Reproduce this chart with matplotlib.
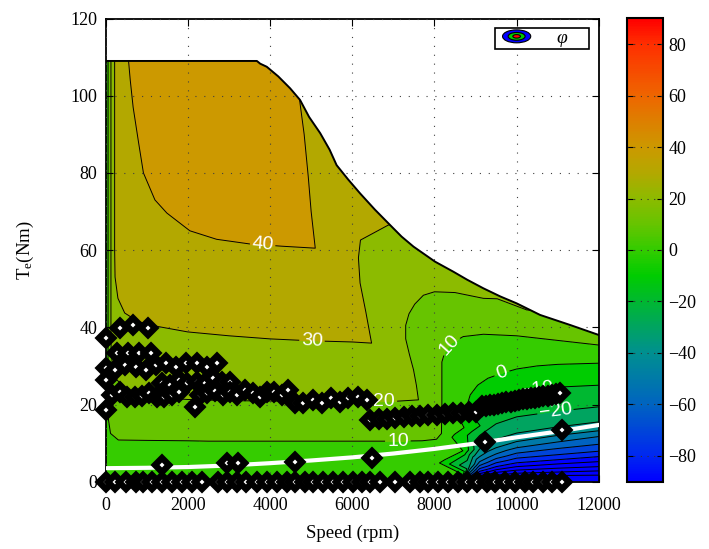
import numpy as np
import matplotlib
matplotlib.use('Agg')
import matplotlib.pyplot as plt
import matplotlib.tri as mtri
from matplotlib.colors import LinearSegmentedColormap, Normalize
from matplotlib.patches import Polygon, Ellipse, Patch
from matplotlib.legend_handler import HandlerBase
from matplotlib.cm import ScalarMappable

plt.rcParams['font.family'] = ['Liberation Serif', 'DejaVu Serif']
plt.rcParams['mathtext.fontset'] = 'stix'

# --- phi field (speed rpm, torque Nm) ---
c40_speed = [550, 600, 670, 800, 920, 1200, 1490, 2050, 2700, 3500, 4300, 5100, 5000, 4930, 4830, 4730, 4650]
c40_torque = [110, 104, 97, 88, 80, 73, 69.6, 65, 62.8, 61.6, 61.0, 60.5, 70, 79, 90, 98, 110]

c30_speed = [220, 220, 220, 220, 220, 220, 230, 300, 465, 790, 1275, 2000, 3000, 4000, 5000, 6000,
             6470, 6330, 6190, 6150, 6200, 6270, 6350, 6680, 6880, 7100]
c30_torque = [110, 100, 90, 80, 70, 60, 53, 47.5, 43.7, 41.5, 40.2, 38.8, 37.8, 37.0, 36.5, 36.2,
              35.9, 44, 51.5, 58, 62.6, 65.2, 66.2, 66.7, 66.5, 66.5]

c20_speed = [130, 130, 130, 130, 130, 130, 130, 130, 135, 170, 230, 350, 667, 1200, 2000, 3000, 4000,
             5000, 6000, 7000, 7610, 7560, 7490, 7390, 7300, 7300, 7380, 7520, 7730, 8000, 8500, 9190,
             10245, 10800]
c20_torque = [110, 100, 90, 80, 70, 60, 50, 40, 34, 29.5, 27, 25.5, 23, 21.8, 21.3, 21.0, 20.9,
              20.8, 20.8, 20.8, 21.2, 25, 29, 33, 37, 40.5, 43.5, 46, 48.3, 49.2, 49, 47.5,
              44.5, 44.0]

c10_speed = [60, 60, 60, 60, 60, 60, 60, 60, 60, 62, 70, 120, 310, 1000, 2000, 4000, 6000, 7000,
             7700, 8050, 8170, 8180, 8180, 8180, 8250, 8400, 8700, 9190, 10000, 11000, 12000]
c10_torque = [110, 100, 90, 80, 70, 60, 50, 40, 30, 22, 16, 12.5, 10.8, 10.7, 10.6, 10.5, 10.5, 10.5,
              10.6, 11, 12.5, 18, 25, 31, 33.5, 35.8, 37.6, 38.2, 37.8, 36.6, 35.4]

c0_speed = [8665, 8690, 8720, 8770, 8870, 9050, 9300, 9640, 10000, 10500, 11000, 12000]
c0_torque = [2, 8, 14, 19, 22.5, 25, 26.8, 28.1, 29.2, 30.0, 30.4, 30.7]

cm10_speed = [8700, 8740, 8800, 8907, 9100, 9350, 9910, 10500, 11000, 12000]
cm10_torque = [2, 7, 12, 17.3, 20.0, 21.6, 23.2, 24.0, 24.5, 25]

# fan below the singular point: torque at 8850, 9100, 9500, 10000, 11000, 12000 rpm
fan_speed = [8850, 9100, 9500, 10000, 11000, 12000]
cm20_torque = [7.0, 12.0, 15.0, 16.8, 18.3, 19.4]
cm30_torque = [4.0, 8.5, 11.0, 12.6, 14.2, 15.5]
cm40_torque = [3.0, 6.5, 8.8, 10.4, 12.0, 13.2]
cm50_torque = [2.3, 5.2, 7.2, 8.8, 10.3, 11.7]
cm60_torque = [1.8, 4.2, 6.0, 7.4, 8.6, 9.7]
cm70_torque = [1.4, 3.4, 4.9, 6.1, 7.0, 7.9]
cm80_torque = [1.1, 2.7, 3.9, 4.9, 5.7, 6.5]
cm90_torque = [0.8, 2.1, 3.1, 3.9, 4.6, 5.2]
cm100_torque = [0.6, 1.6, 2.4, 3.0, 3.5, 3.9]
cm110_torque = [0.4, 1.1, 1.7, 2.2, 2.5, 2.8]
cm120_torque = [0.25, 0.7, 1.1, 1.5, 1.6, 1.7]

# boundary values: left edge, bottom row, envelope, top row (speed, torque, phi)
edge_speed = [0, 0, 0, 0, 0, 0, 0, 0, 0, 0, 0, 0,
              2000, 4000, 6000, 8000, 8650, 8750, 9500, 10500, 12000,
              3680, 4200, 5220, 5620, 6190, 6550, 7490, 8015, 8460, 9190, 9600, 11300, 12000,
              2000, 3300, 5500, 6500, 7500, 8500, 9500, 11000, 12000]
edge_torque = [0, 10, 20, 30, 40, 50, 60, 70, 80, 90, 100, 110,
               0, 0, 0, 0, 0, 0, 0, 0, 0,
               109, 105, 90.3, 82, 74.7, 70.5, 60.9, 57, 54.4, 50.1, 48, 40.6, 38,
               110, 110, 110, 110, 110, 110, 110, 110, 110]
edge_phi = [3, 2, 2, 2, 2, 2, 2, 2, 2, 2, 2, 2,
            3, 3, 3, 3, 3, -130, -130, -130, -130,
            44.5, 42, 37.5, 35.5, 33, 31.5, 26, 23, 22, 21, 20.7, 16, 12.5,
            45, 45.5, 36, 32, 27, 22, 21, 17, 12.5]

# a few values read inside the bands
fill_speed = [1200, 2500, 3800, 3000, 4400,
              380, 700, 1500, 3000, 4500, 5500, 5500, 6600,
              1000, 3000, 5000, 6500, 7000, 6900, 7000, 8000,
              700, 3000, 6000, 7900, 7800, 8000, 9000, 10500, 11500,
              2000, 5000, 8000, 8450, 9500, 11000,
              9500, 11000]
fill_torque = [100, 90, 80, 70, 70,
               80, 60, 50, 47, 48, 55, 75, 68.5,
               30, 29, 28, 28, 35, 50, 60, 53,
               16, 16, 16, 16, 35, 42, 43, 40, 38,
               5, 5, 5, 25, 32, 33,
               25, 27.5]
fill_phi = [43, 45, 44, 42.5, 42,
            35, 35, 35, 35.5, 35.5, 35, 36, 31,
            25, 25.5, 25.5, 25, 24, 24, 25.5, 22,
            15, 15, 15, 15, 15.5, 15.5, 15, 14, 13,
            5, 5, 5, 5, 5, 5,
            -5, -5]

# torque envelope (top of the operating region)
env_speed = [0, 3680, 3760, 3920, 4200, 4490, 4730, 4950, 5220, 5450, 5620, 5900, 6190, 6550,
             6920, 7200, 7490, 8015, 8460, 8800, 9190, 9600, 10000, 10570, 11300, 12000]
env_torque = [109, 109, 108.3, 107.5, 105, 101.9, 98.9, 94.5, 90.3, 86, 82, 78.3, 74.7, 70.5,
              66.5, 63.5, 60.9, 57, 54.4, 52.3, 50.1, 48, 46.2, 43.2, 40.6, 38]

# white curve
curve_speed = [0, 1000, 2000, 3000, 4000, 5000, 6000, 7000, 8000, 9000, 10000, 11000, 12000]
curve_torque = [3.5, 3.6, 3.8, 4.2, 4.8, 5.5, 6.3, 7.3, 8.5, 9.9, 11.5, 13.0, 14.7]

# operating points (diamonds)
mk_speed = [0, 229, 496, 740, 918, 1120, 1364, 1607, 1850, 2094, 2337, 2742, 2946, 3190, 3416,
            3676, 3919, 4163, 4406, 4608, 4852, 5054, 5297, 5540, 5784, 6027, 6231, 6433, 6676,
            7041, 7406, 7650, 7852, 8095, 8338, 8582, 8785, 9029, 9272, 9474, 9718, 9961, 10204,
            10406, 10650, 10854, 11097,
            1365, 2947, 3230, 4608, 6475, 9230, 11100,
            0, 0, 0, 0,
            351, 676, 1040,
            270, 550, 820, 1100,
            229, 472, 732, 983, 1226, 1470, 1713, 1956, 2216, 2460, 2703,
            1365, 1567, 1786, 1988, 2216, 2418, 2621, 2825, 3027,
            148, 350, 528, 715, 878, 1063, 1243, 1421, 1608, 1793, 2297, 2475, 2662, 2849,
            3027, 3205, 3392, 3579, 3757, 3935, 4097, 4284, 4446, 2175,
            4608, 4810, 5039, 5258, 5477, 5703, 5906, 6148, 6353,
            6433, 6640, 6840, 7040, 7250, 7450, 7650, 7850, 8050, 8250, 8450, 8650, 8850, 9000,
            9150, 9250, 9350, 9450, 9550, 9650, 9750, 9850, 9950, 10050, 10150, 10250, 10350,
            10450, 10550, 10650, 10750, 10850, 10950, 11060]
mk_torque = [0] * 47 + [4.3, 4.8, 4.8, 5.2, 6.1, 10.4, 13.4,
             37.2, 29.4, 26.3, 18.6,
             39.7, 40.6, 39.7,
             33.3, 33.3, 33.3, 33.3,
             28.9, 30.2, 29.8, 28.9, 30.2, 30.7, 29.8, 30.7, 30.7, 29.8, 30.8,
             25.5, 25.0, 26.3, 25.5, 25.9, 25.5, 26.8, 25.9, 25.9,
             22.5, 23.3, 22.0, 21.9, 22.2, 23.0, 22.0, 22.0, 22.5, 23.3, 22.5, 22.9, 23.5, 22.5,
             23.3, 22.5, 23.8, 22.9, 22.0, 23.3, 23.3, 22.5, 23.8, 19.4,
             20.3, 20.3, 21.2, 20.3, 21.6, 20.7, 21.6, 22.0, 21.2,
             16.0, 16.2, 16.3, 16.6, 16.7, 16.9, 17.1, 17.2, 17.4, 17.6, 17.8, 17.9, 18.0, 18.1,
             19.5, 19.7, 19.9, 20.0, 20.2, 20.4, 20.6, 20.7, 20.9, 21.1, 21.3, 21.4, 21.6,
             21.8, 22.0, 22.1, 22.3, 22.5, 22.7, 22.9]

levels = np.arange(-130, 91, 10)
cmap_vals = [-90, -80, -60, -40, -20, -10, 0, 10, 20, 30, 40, 60, 80, 90]
cmap_cols = ['#0000ff', '#0028f0', '#0064c0', '#009090', '#00b830', '#00cc00', '#33cc00',
             '#66c400', '#8cbb00', '#b3a800', '#cc9900', '#ee6600', '#ff3000', '#ff0000']
cmap = LinearSegmentedColormap.from_list(
    'phi', [((v + 90) / 180, c) for v, c in zip(cmap_vals, cmap_cols)])
norm = Normalize(-90, 90)

# assemble the sample points
contours = [(c40_speed, c40_torque, 40), (c30_speed, c30_torque, 30), (c20_speed, c20_torque, 20),
            (c10_speed, c10_torque, 10), (c0_speed, c0_torque, 0), (cm10_speed, cm10_torque, -10)]
fan = [cm20_torque, cm30_torque, cm40_torque, cm50_torque, cm60_torque, cm70_torque,
       cm80_torque, cm90_torque, cm100_torque, cm110_torque, cm120_torque]
for k, tq in enumerate(fan):
    contours.append((fan_speed, tq, -20 - 10 * k))

xs, ys, zs = list(edge_speed) + list(fill_speed), list(edge_torque) + list(fill_torque), list(edge_phi) + list(fill_phi)
for sp, tq, lv in contours:
    xs += list(sp)
    ys += list(tq)
    zs += [lv] * len(sp)
xs, ys, zs = np.array(xs, float), np.array(ys, float), np.array(zs, float)

# triangulate on a stretched speed axis so the narrow low-speed columns connect sideways
tri_n = mtri.Triangulation(np.sqrt(xs / 12000), ys / 110)
tri = mtri.Triangulation(xs, ys, tri_n.triangles)

fig = plt.figure(figsize=(7.09, 5.49), dpi=100)
ax = fig.add_axes([105.6 / 709, 1 - 481.7 / 549, 493.3 / 709, 463.2 / 549])

band_cols = [cmap(norm(l)) for l in levels[:-1]]
cf = ax.tricontourf(tri, zs, levels=levels, colors=band_cols, zorder=1)
cl = ax.tricontour(tri, zs, levels=levels[1:-1], colors='k', linewidths=0.7,
                   linestyles='solid', negative_linestyles='solid', zorder=2)

clip_x = [0, 12000] + env_speed[::-1]
clip_y = [0, 0] + env_torque[::-1]
clip = Polygon(np.column_stack([clip_x, clip_y]), closed=True, transform=ax.transData,
               facecolor='none', edgecolor='none')
ax.add_patch(clip)
cf.set_clip_path(clip)
cl.set_clip_path(clip)

labels = ax.clabel(cl, inline=True, inline_spacing=3, fontsize=14, colors='white',
                   manual=[(3820, 61.4), (5020, 36.4), (6780, 20.9), (7110, 10.5), (8430, 35),
                           (9640, 28.1), (10490, 24.0), (10940, 18.3)])
for t in labels:
    t.set_fontfamily('Liberation Sans')

ax.plot(env_speed, env_torque, color='k', lw=1.4, zorder=3)
ax.plot(curve_speed, curve_torque, color='white', lw=3.0, zorder=4)
ax.plot(mk_speed, mk_torque, linestyle='none', marker='D', ms=7.6, mfc='white', mec='black',
        mew=4.6, clip_on=False, zorder=6)

ax.set_xlim(0, 12000)
ax.set_ylim(0, 120)
ax.set_xticks(np.arange(0, 12001, 2000))
ax.set_yticks(np.arange(0, 121, 20))
ax.set_axisbelow(False)
ax.grid(True, color='0.25', linestyle=(0, (1, 7)), lw=0.8)
ax.tick_params(direction='in', top=True, right=True, length=5, labelsize=13, pad=6)
ax.tick_params(axis='x', pad=11)
for s in ax.spines.values():
    s.set_linewidth(1.3)
ax.set_xlabel('Speed (rpm)', fontsize=13.5, labelpad=8)
ax.set_ylabel('$\\mathregular{T_e(Nm)}$', fontsize=13.5, labelpad=25)


class EllipseHandler(HandlerBase):
    def create_artists(self, legend, orig_handle, xdescent, ydescent, width, height, fontsize, trans):
        ew = fontsize * 1.45
        cx = width - ew / 2 - xdescent
        cy = height / 2 - ydescent
        arts = []
        for frac, col in ((1.0, '#0000ff'), (0.6, '#00cc00'), (0.27, '#ff0000')):
            arts.append(Ellipse((cx, cy), ew * frac, height * 1.05 * frac, facecolor=col,
                                edgecolor='k', lw=0.8, transform=trans))
        return arts


leg = ax.legend([Patch()], ['\u03c6\u2003'], handler_map={Patch: EllipseHandler()},
                loc='upper right', prop={'family': 'Liberation Serif', 'style': 'italic', 'size': 14},
                handlelength=1.75, handleheight=0.6, handletextpad=1.35, borderpad=0.1,
                borderaxespad=0.5, fancybox=False, edgecolor='k', framealpha=1)
leg.get_frame().set_linewidth(1.2)
leg.set_zorder(7)

cax = fig.add_axes([626.7 / 709, 1 - 481.7 / 549, 36 / 709, 463.4 / 549])
cb = fig.colorbar(ScalarMappable(norm=norm, cmap=cmap), cax=cax, ticks=np.arange(-80, 81, 20))
cb.outline.set_linewidth(1.5)
cax.tick_params(direction='in', left=True, right=True, length=4, labelsize=13, pad=4)
cax.hlines(np.arange(-80, 81, 20), 0, 1, transform=cax.get_yaxis_transform(),
           colors='0.2', linestyles=(0, (1, 5)), lw=0.8)

fig.savefig('out.png', dpi=100)
